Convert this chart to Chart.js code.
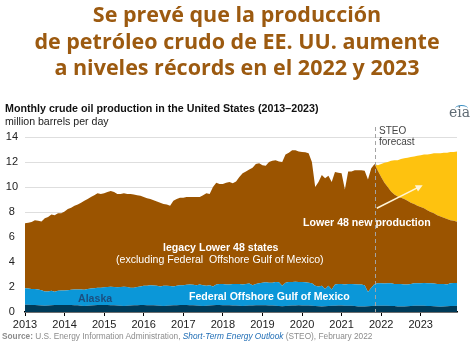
<!DOCTYPE html>
<html>
<head>
<meta charset="utf-8">
<script src="https://cdn.jsdelivr.net/npm/chart.js@4.4.1/dist/chart.umd.min.js"></script>
<style>
  html, body { margin: 0; padding: 0; background: #fff; }
  #wrap { position: relative; width: 474px; height: 343px; overflow: hidden; font-family: "Liberation Sans", Arial, sans-serif; }
  #chart { position: absolute; left: 0; top: 0; }
  .t { position: absolute; white-space: nowrap; line-height: 12px; }
  #title { position: absolute; left: 0; top: 1px; width: 474px; text-align: center; font-family: "Open Sans", sans-serif; font-weight: 700; font-size: 21.5px; line-height: 26.7px; color: #9c5a10; }
  .w { color: #fff; font-size: 10.6px; }
  #src { position: absolute; left: 2px; top: 331px; font-size: 8.3px; line-height: 11px; color: #8c8c8c; white-space: nowrap; }
  #src i { color: #1f6db5; }
  #eia { position: absolute; left: 449px; top: 104px; font-family: "DejaVu Serif", serif; font-size: 14px; line-height: 16px; color: #5f6b74; }
  #eiaArc { position: absolute; left: 455px; top: 105px; width: 13px; height: 6px; border-top: 1.5px solid #3a8fc3; border-radius: 50% 50% 0 0; }
</style>
</head>
<body>
<div id="wrap">
  <canvas id="chart" width="474" height="343"></canvas>
  <div id="title">Se prevé que la producción<br>de petróleo crudo de EE. UU. aumente<br>a niveles récords en el 2022 y 2023</div>
  <div class="t" style="left:5px;top:102px;font-size:10.7px;font-weight:700;color:#111;">Monthly crude oil production in the United States (2013–2023)</div>
  <div class="t" style="left:5px;top:115px;font-size:10.6px;color:#222;">million barrels per day</div>
  <div id="eiaArc"></div>
  <div id="eia">eia</div>
  <div class="t" style="left:379px;top:125px;font-size:10px;color:#444;">STEO</div>
  <div class="t" style="left:379px;top:136px;font-size:10px;color:#444;">forecast</div>
  <div class="t w" style="left:303px;top:216px;font-weight:700;">Lower 48 new production</div>
  <div class="t w" style="left:163px;top:241px;font-weight:700;">legacy Lower 48 states</div>
  <div class="t w" style="left:116px;top:253px;">(excluding Federal&nbsp; Offshore Gulf of Mexico)</div>
  <div class="t w" style="left:189px;top:290px;font-weight:700;">Federal Offshore Gulf of Mexico</div>
  <div class="t" style="left:78px;top:292px;font-size:10.6px;font-weight:700;color:#1b4f80;">Alaska</div>
  <div id="src"><b>Source:</b> U.S. Energy Information Administration, <i>Short-Term Energy Outlook</i> (STEO), February 2022</div>
</div>
<script>
// x axis years (one label per January)
var years = [2013, 2014, 2015, 2016, 2017, 2018, 2019, 2020, 2021, 2022, 2023];
var firstMonth = 2013;
var forecastStart = 2021 + 10 / 12; // Nov 2021, last historical month

// monthly values, Jan 2013 .. Dec 2023 (million barrels per day)
var alaska = [
    0.58, 0.58, 0.57, 0.56, 0.55, 0.52, 0.50, 0.52, 0.54, 0.56, 0.57, 0.57,
    0.57, 0.57, 0.56, 0.55, 0.54, 0.51, 0.49, 0.51, 0.53, 0.55, 0.56, 0.56,
    0.56, 0.56, 0.55, 0.54, 0.52, 0.50, 0.48, 0.50, 0.52, 0.54, 0.55, 0.56,
    0.56, 0.55, 0.55, 0.54, 0.52, 0.50, 0.48, 0.50, 0.52, 0.54, 0.55, 0.56,
    0.56, 0.56, 0.55, 0.54, 0.53, 0.51, 0.49, 0.51, 0.53, 0.55, 0.56, 0.56,
    0.55, 0.55, 0.54, 0.53, 0.52, 0.50, 0.48, 0.50, 0.52, 0.53, 0.54, 0.54,
    0.54, 0.54, 0.53, 0.52, 0.51, 0.48, 0.46, 0.48, 0.50, 0.52, 0.53, 0.54,
    0.53, 0.53, 0.52, 0.50, 0.48, 0.46, 0.44, 0.46, 0.48, 0.50, 0.51, 0.52,
    0.52, 0.51, 0.51, 0.50, 0.48, 0.45, 0.44, 0.45, 0.47, 0.49, 0.50, 0.51,
    0.51, 0.51, 0.50, 0.49, 0.48, 0.45, 0.44, 0.45, 0.47, 0.49, 0.50, 0.50,
    0.50, 0.50, 0.49, 0.48, 0.47, 0.44, 0.43, 0.44, 0.46, 0.48, 0.49, 0.50
];

var gulfOfMexico = [
    1.32, 1.30, 1.28, 1.29, 1.25, 1.23, 1.15, 1.13, 1.16, 1.06, 1.13, 1.15,
    1.15, 1.18, 1.22, 1.25, 1.26, 1.29, 1.29, 1.34, 1.35, 1.35, 1.39, 1.39,
    1.42, 1.44, 1.47, 1.46, 1.46, 1.50, 1.54, 1.50, 1.43, 1.41, 1.45, 1.49,
    1.54, 1.55, 1.60, 1.58, 1.58, 1.55, 1.62, 1.60, 1.56, 1.51, 1.55, 1.59,
    1.59, 1.62, 1.65, 1.64, 1.62, 1.69, 1.66, 1.59, 1.62, 1.50, 1.64, 1.69,
    1.70, 1.65, 1.66, 1.72, 1.73, 1.75, 1.72, 1.75, 1.76, 1.62, 1.71, 1.76,
    1.81, 1.84, 1.82, 1.83, 1.89, 1.90, 1.64, 1.87, 1.90, 1.88, 1.89, 1.86,
    1.87, 1.85, 1.83, 1.80, 1.62, 1.59, 1.66, 1.39, 1.62, 1.30, 1.69, 1.73,
    1.73, 1.69, 1.74, 1.75, 1.74, 1.75, 1.76, 1.70, 1.13, 1.46, 1.75, 1.79,
    1.79, 1.77, 1.80, 1.81, 1.77, 1.80, 1.81, 1.75, 1.73, 1.76, 1.80, 1.80,
    1.80, 1.82, 1.81, 1.82, 1.81, 1.81, 1.82, 1.81, 1.74, 1.82, 1.83, 1.83
];

var legacyLower48 = [
    5.20, 5.27, 5.35, 5.50, 5.50, 5.50, 5.85, 5.95, 6.10, 6.13, 6.20, 6.18,
    6.33, 6.50, 6.57, 6.70, 6.80, 6.95, 7.12, 7.20, 7.32, 7.45, 7.55, 7.50,
    7.52, 7.60, 7.66, 7.60, 7.47, 7.45, 7.48, 7.45, 7.50, 7.45, 7.35, 7.25,
    7.10, 7.00, 6.90, 6.83, 6.75, 6.70, 6.55, 6.50, 6.42, 6.85, 6.95, 7.00,
    7.00, 7.02, 7.00, 7.02, 7.05, 7.00, 7.20, 7.40, 7.30, 7.95, 8.15, 8.00,
    8.00, 8.15, 8.20, 8.05, 8.20, 8.55, 8.90, 9.00, 9.12, 9.40, 9.60, 9.60,
    9.40, 9.32, 9.65, 9.75, 9.75, 9.67, 9.90, 10.25, 10.35, 10.55, 10.53, 10.45,
    10.40, 10.40, 10.35, 9.70, 7.90, 8.35, 8.86, 8.85, 8.80, 8.60, 9.00, 8.90,
    8.85, 7.60, 9.00, 9.00, 9.13, 9.15, 9.15, 9.15, 9.00, 9.55, 9.60, 9.00,
    8.50, 8.07, 7.70, 7.35, 7.15, 7.00, 6.90, 6.85, 6.70, 6.50, 6.35, 6.20,
    6.10, 5.98, 5.85, 5.70, 5.62, 5.50, 5.40, 5.30, 5.25, 5.05, 4.98, 4.89
];

// forecast only, Dec 2021 .. Dec 2023
var newLower48 = [
    0.45,
    1.05, 1.60, 2.00, 2.45, 2.75, 2.90, 3.10, 3.25, 3.45, 3.65, 3.80, 4.00,
    4.15, 4.30, 4.45, 4.65, 4.80, 4.95, 5.05, 5.20, 5.30, 5.45, 5.50, 5.63
];

function toPoints(values) {
    return values.map(function (v, i) { return { x: firstMonth + i / 12, y: v }; });
}

var newPadded = [];
for (var i = 0; i < alaska.length - newLower48.length; i++) newPadded.push(0);
newPadded = newPadded.concat(newLower48);

var forecastLine = {
    id: 'forecastLine',
    afterDatasetsDraw: function (chart) {
        var c = chart.ctx, xs = chart.scales.x, ys = chart.scales.y;
        var x = Math.round(xs.getPixelForValue(forecastStart)) + 0.5;
        c.save();
        c.strokeStyle = '#a3a3a3';
        c.lineWidth = 1;
        c.setLineDash([4, 3]);
        c.beginPath();
        c.moveTo(x, 127);
        c.lineTo(x, chart.chartArea.bottom);
        c.stroke();
        c.setLineDash([]);
        // arrow to the new production area
        var x0 = xs.getPixelForValue(2021.89), y0 = ys.getPixelForValue(8.3);
        var x1 = xs.getPixelForValue(2023.05), y1 = ys.getPixelForValue(10.15);
        var a = Math.atan2(y1 - y0, x1 - x0);
        c.strokeStyle = '#fff4d6';
        c.fillStyle = '#fff4d6';
        c.lineWidth = 1.5;
        c.beginPath();
        c.moveTo(x0, y0);
        c.lineTo(x1 - 5 * Math.cos(a), y1 - 5 * Math.sin(a));
        c.stroke();
        c.beginPath();
        c.moveTo(x1, y1);
        c.lineTo(x1 - 7 * Math.cos(a) + 3.5 * Math.sin(a), y1 - 7 * Math.sin(a) - 3.5 * Math.cos(a));
        c.lineTo(x1 - 7 * Math.cos(a) - 3.5 * Math.sin(a), y1 - 7 * Math.sin(a) + 3.5 * Math.cos(a));
        c.closePath();
        c.fill();
        c.restore();
    }
};

var ctx = document.getElementById('chart').getContext('2d');
new Chart(ctx, {
    type: 'line',
    data: {
        datasets: [
            { label: 'Alaska', data: toPoints(alaska), backgroundColor: '#003a58', fill: 'origin' },
            { label: 'Federal Offshore Gulf of Mexico', data: toPoints(gulfOfMexico), backgroundColor: '#0b97d8', fill: '-1' },
            { label: 'legacy Lower 48 states', data: toPoints(legacyLower48), backgroundColor: '#9b5400', fill: '-1' },
            { label: 'Lower 48 new production', data: toPoints(newPadded), backgroundColor: '#fec20f', fill: '-1' }
        ]
    },
    options: {
        responsive: false,
        animation: false,
        devicePixelRatio: 1,
        layout: { padding: { top: 137, right: 17, left: 0, bottom: 0 } },
        elements: {
            point: { radius: 0 },
            line: { borderWidth: 0, borderColor: 'rgba(0,0,0,0)', tension: 0 }
        },
        plugins: { legend: { display: false }, tooltip: { enabled: false } },
        scales: {
            x: {
                type: 'linear',
                min: 2013,
                max: 2013 + 131 / 12,
                afterBuildTicks: function (s) { s.ticks = years.map(function (y) { return { value: y }; }); },
                afterFit: function (s) { s.height = 31; },
                grid: { drawOnChartArea: false, drawTicks: true, tickLength: 4, color: '#000' },
                border: { color: '#000', width: 1.5 },
                ticks: { color: '#222', font: { size: 11, family: 'Liberation Sans' }, padding: 2, maxRotation: 0, autoSkip: false,
                    callback: function (v) { return String(v); } }
            },
            y: {
                stacked: true,
                min: 0,
                max: 14,
                afterFit: function (s) { s.width = 25; },
                grid: { color: '#dedede', drawTicks: false },
                border: { display: false },
                ticks: { stepSize: 2, color: '#222', font: { size: 11, family: 'Liberation Sans' }, padding: 7, crossAlign: 'center' }
            }
        }
    },
    plugins: [forecastLine]
});
</script>
</body>
</html>
